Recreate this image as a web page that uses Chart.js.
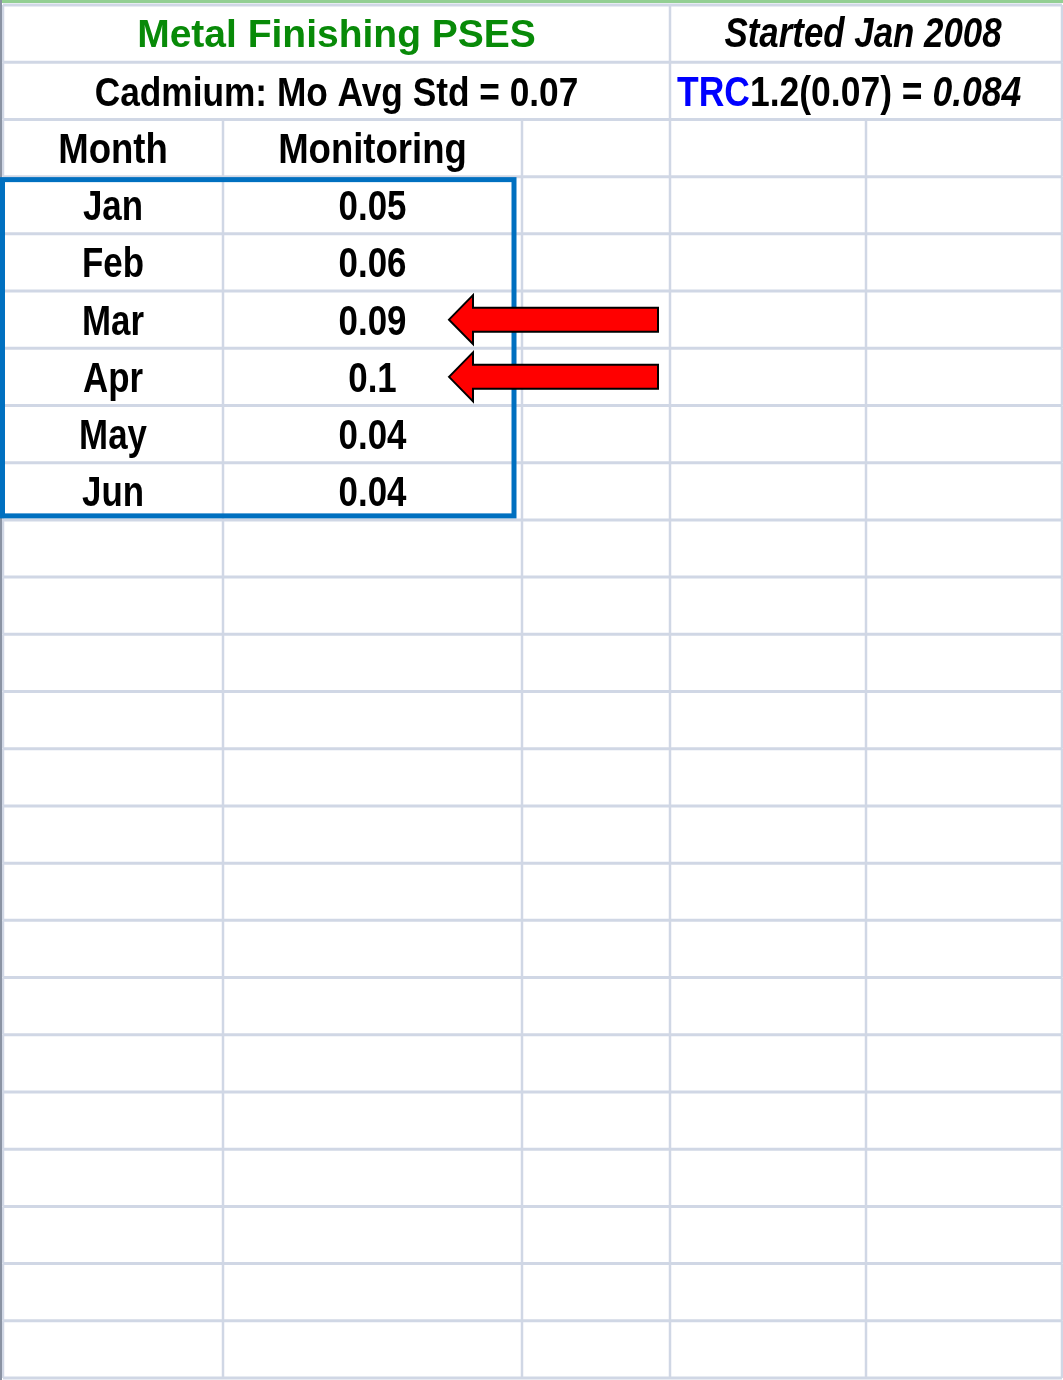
<!DOCTYPE html>
<html>
<head>
<meta charset="utf-8">
<script src="https://cdn.jsdelivr.net/npm/chart.js@4.4.1/dist/chart.umd.min.js"></script>
<style>
  html, body { margin: 0; padding: 0; background: #fff; }
  #wrap { width: 1063px; height: 1380px; position: relative; }
</style>
</head>
<body>
<div id="wrap"><canvas id="sheet"></canvas></div>
<script>
// sheet data
const title = 'Metal Finishing PSES';
const started = 'Started Jan 2008';
const stdLabel = 'Cadmium: Mo Avg Std = 0.07';
const trcParts = ['TRC', '1.2(0.07) = ', '0.084'];
const trcLimit = 0.084;
const headers = ['Month', 'Monitoring'];
const months = ['Jan', 'Feb', 'Mar', 'Apr', 'May', 'Jun'];
const monitoring = [0.05, 0.06, 0.09, 0.1, 0.04, 0.04];

// layout (spreadsheet column edges / rows)
const COL_EDGES = [0, 220, 519, 667, 863, 1059];
const ROWS = 24;
const FIRST_DATA_ROW = 3;

// no narrow font installed, so squeeze Liberation Sans horizontally
const SANS = '"Liberation Sans", Arial, sans-serif';
const SQUEEZE = 0.83;
const GRID = '#d0d7e5';

// draws text, returns its drawn width
function txt(ctx, s, x, y, font, color, align, sx) {
    sx = sx || 1;
    ctx.save();
    ctx.font = font;
    ctx.fillStyle = color;
    ctx.textAlign = align || 'center';
    ctx.textBaseline = 'alphabetic';
    ctx.translate(x, y);
    ctx.scale(sx, 1);
    ctx.fillText(s, 0, 0);
    const w = ctx.measureText(s).width * sx;
    ctx.restore();
    return w;
}

const sheetPlugin = {
    id: 'sheet',
    beforeDatasetsDraw(chart) {
        const ctx = chart.ctx;
        const X = v => chart.scales.x.getPixelForValue(v);
        const Y = r => chart.scales.y.getPixelForValue(r);
        ctx.save();
        ctx.fillStyle = '#93cf93';
        ctx.fillRect(0, 0, chart.width, 3);
        ctx.strokeStyle = GRID;
        // horizontal lines
        ctx.lineWidth = 3;
        for (let r = 0; r <= ROWS; r++) {
            ctx.beginPath();
            ctx.moveTo(X(0), Y(r));
            ctx.lineTo(X(COL_EDGES[COL_EDGES.length - 1]), Y(r));
            ctx.stroke();
        }
        // vertical lines (rows 0-1 are merged)
        ctx.lineWidth = 2.5;
        const outer = [COL_EDGES[0], COL_EDGES[3], COL_EDGES[5]];
        COL_EDGES.forEach(e => {
            for (let r = 0; r < ROWS; r++) {
                if (r < 2 && outer.indexOf(e) < 0) continue;
                ctx.beginPath();
                ctx.moveTo(X(e), Y(r));
                ctx.lineTo(X(e), Y(r + 1));
                ctx.stroke();
            }
        });
        ctx.strokeStyle = '#8a93a3';
        ctx.lineWidth = 2;
        ctx.beginPath();
        ctx.moveTo(1, 0);
        ctx.lineTo(1, chart.height);
        ctx.stroke();
        ctx.restore();
    },
    afterDatasetsDraw(chart) {
        const ctx = chart.ctx;
        const X = v => chart.scales.x.getPixelForValue(v);
        const Y = r => chart.scales.y.getPixelForValue(r);
        const B42 = 'bold 42px ' + SANS;
        const BI42 = 'italic bold 42px ' + SANS;
        ctx.save();
        // header rows
        txt(ctx, title, (X(COL_EDGES[0]) + X(COL_EDGES[3])) / 2, Y(0.5) + 13, 'bold 39px ' + SANS, '#088a08');
        txt(ctx, started, (X(COL_EDGES[3]) + X(COL_EDGES[5])) / 2 - 3, Y(0.5) + 13, BI42, '#000', 'center', SQUEEZE);
        txt(ctx, stdLabel, (X(COL_EDGES[0]) + X(COL_EDGES[3])) / 2, Y(1.5) + 15, 'bold 41px ' + SANS, '#000', 'center', 0.86);
        let tx = X(COL_EDGES[3]) + 7;
        const ty = Y(1.5) + 15;
        const fonts = [B42, B42, BI42];
        const colors = ['#0000ff', '#000', '#000'];
        trcParts.forEach((p, i) => {
            tx += txt(ctx, p, tx, ty, fonts[i], colors[i], 'left', 0.845);
        });
        headers.forEach((h, i) => {
            txt(ctx, h, (X(COL_EDGES[i]) + X(COL_EDGES[i + 1])) / 2, Y(2.5) + 15, B42, '#000', 'center', 0.87);
        });
        // cell values at the dataset element positions
        chart.data.datasets.forEach((ds, di) => {
            const meta = chart.getDatasetMeta(di);
            meta.data.forEach((pt, i) => {
                const s = di === 0 ? months[i] : String(monitoring[i]);
                txt(ctx, s, pt.x, pt.y + 15, B42, '#000', 'center', SQUEEZE);
            });
        });
        // blue frame round the data block
        ctx.strokeStyle = '#0070c0';
        ctx.lineWidth = 5;
        const l = X(COL_EDGES[0]) - 0.5, t = Y(FIRST_DATA_ROW) + 3;
        const rgt = X(COL_EDGES[2]) - 8, b = Y(FIRST_DATA_ROW + months.length) - 4;
        ctx.strokeRect(l, t, rgt - l, b - t);
        // arrows on values above the TRC limit
        monitoring.forEach((v, i) => {
            if (v <= trcLimit) return;
            const cy = Y(FIRST_DATA_ROW + i + 0.5);
            const tail = X(COL_EDGES[3]) - 12;
            const tip = tail - 209;
            const neck = tip + 24;
            ctx.beginPath();
            ctx.moveTo(tip, cy);
            ctx.lineTo(neck, cy - 24.5);
            ctx.lineTo(neck, cy - 12);
            ctx.lineTo(tail, cy - 12);
            ctx.lineTo(tail, cy + 12);
            ctx.lineTo(neck, cy + 12);
            ctx.lineTo(neck, cy + 24.5);
            ctx.closePath();
            ctx.fillStyle = '#ff0000';
            ctx.fill();
            ctx.lineWidth = 2;
            ctx.strokeStyle = '#000';
            ctx.lineJoin = 'miter';
            ctx.stroke();
        });
        ctx.restore();
    }
};

const colCenter = i => (COL_EDGES[i] + COL_EDGES[i + 1]) / 2;

new Chart(document.getElementById('sheet'), {
    type: 'scatter',
    data: {
        datasets: [
            {
                label: 'Month',
                data: months.map((m, i) => ({ x: colCenter(0), y: FIRST_DATA_ROW + i + 0.5 })),
                pointRadius: 0
            },
            {
                label: 'Monitoring',
                data: monitoring.map((v, i) => ({ x: colCenter(1), y: FIRST_DATA_ROW + i + 0.5 })),
                pointRadius: 0
            }
        ]
    },
    options: {
        responsive: true,
        maintainAspectRatio: false,
        animation: false,
        events: [],
        layout: { padding: { left: 3, right: 1, top: 5, bottom: 2 } },
        plugins: { legend: { display: false }, tooltip: { enabled: false } },
        scales: {
            x: { type: 'linear', min: 0, max: COL_EDGES[COL_EDGES.length - 1], display: false },
            y: { type: 'linear', min: 0, max: ROWS, reverse: true, display: false }
        }
    },
    plugins: [sheetPlugin]
});
</script>
</body>
</html>
